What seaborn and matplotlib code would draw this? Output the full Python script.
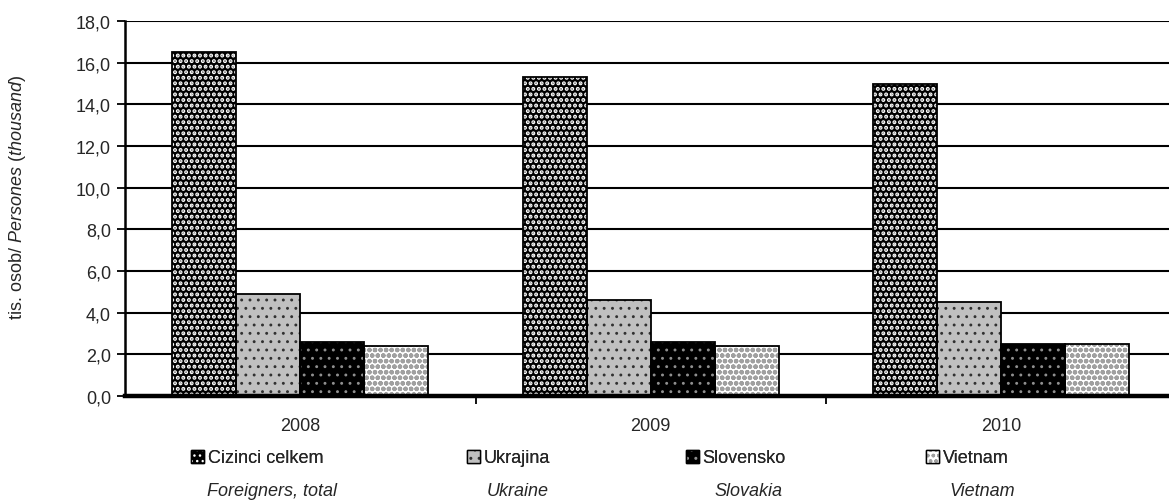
import matplotlib
matplotlib.use("Agg")
import matplotlib.pyplot as plt
from matplotlib.patches import Patch, Rectangle
from matplotlib.legend_handler import HandlerTuple
from matplotlib.ticker import FuncFormatter, FixedLocator
import pandas as pd
import seaborn as sns

years = ["2008", "2009", "2010"]
series_cz = ["Cizinci celkem", "Ukrajina", "Slovensko", "Vietnam"]
series_en = ["Foreigners, total", "Ukraine", "Slovakia", "Vietnam"]
cizinci = [16.5, 15.3, 15.0]
ukrajina = [4.9, 4.6, 4.5]
slovensko = [2.6, 2.6, 2.5]
vietnam = [2.4, 2.4, 2.5]

rows = []
for name, vals in zip(series_cz, [cizinci, ukrajina, slovensko, vietnam]):
    for y, v in zip(years, vals):
        rows.append({"rok": y, "serie": name, "hodnota": v})
df = pd.DataFrame(rows)

sns.set_style("white")
plt.rcParams["font.family"] = ["Liberation Sans", "DejaVu Sans"]
plt.rcParams["mathtext.fontset"] = "custom"
plt.rcParams["mathtext.rm"] = "Liberation Sans"
plt.rcParams["mathtext.it"] = "Liberation Sans:italic"
FS = 13

# face colour, hatch, hatch colour, hatch width
styles = {
    "Cizinci celkem": ("#000000", "...", "#ffffff", 2.0),
    "Ukrajina": ("#c0c0c0", "..", "#303030", 0.9),
    "Slovensko": ("#000000", "..", "#909090", 0.9),
    "Vietnam": ("#ffffff", "ooo", "#a0a0a0", 1.6),
}


def style_patch(p, name):
    fc, hatch, hc, hw = styles[name]
    p.set_facecolor(fc)
    p.set_hatch(hatch)
    p.set_edgecolor(hc)
    p.set_linewidth(0)
    if hasattr(p, "set_hatch_linewidth"):
        p.set_hatch_linewidth(hw)


W, H = 1169, 502
fig = plt.figure(figsize=(W / 100, H / 100), dpi=100)
ax = fig.add_axes([125 / W, 1 - 397 / H, 1051.5 / W, 375 / H])

sns.barplot(data=df, x="rok", y="hodnota", hue="serie", hue_order=series_cz,
            width=0.73, gap=0, ax=ax, legend=False, errorbar=None,
            palette=[styles[s][0] for s in series_cz], saturation=1)

# seaborn puts bars in hue order, one block per series
bars = [p for p in ax.patches if isinstance(p, Rectangle)]
for i, p in enumerate(bars[:len(series_cz) * len(years)]):
    style_patch(p, series_cz[i // len(years)])
    ax.add_patch(Rectangle(p.get_xy(), p.get_width(), p.get_height(),
                           fill=False, edgecolor="black", linewidth=1.3, zorder=3))

ax.set_xlim(-0.5, 2.5)
ax.set_ylim(0, 18)
ax.set_yticks([i * 2 for i in range(10)])
ax.yaxis.set_major_formatter(FuncFormatter(lambda v, _: f"{v:.1f}".replace(".", ",")))
ax.grid(axis="y", color="black", linewidth=1.5)
ax.set_axisbelow(True)
for s in ["top", "right"]:
    ax.spines[s].set_visible(False)
ax.spines["left"].set_linewidth(1.8)
ax.spines["bottom"].set_linewidth(3.2)
ax.spines["left"].set_color("black")
ax.spines["bottom"].set_color("black")
ax.tick_params(axis="y", direction="out", length=6, width=1.3, color="black",
               labelsize=FS, pad=4, left=True)
ax.tick_params(axis="x", which="major", length=0, labelsize=FS, pad=15)
ax.xaxis.set_minor_locator(FixedLocator([0.5, 1.5]))
ax.tick_params(axis="x", which="minor", direction="out", length=6, width=1.3,
               color="black", bottom=True)
ax.set_xlabel("")
ax.set_ylabel("")

fig.text(18 / W, 1 - 197 / H, r"tis. osob/ $\it{Persones\ (thousand)}$",
         rotation=90, ha="center", va="center", fontsize=FS)

# legend: one entry per column, English name in italics below
leg_x = [191, 467, 686, 926]
en_x = [272, 518, 748, 982]
for name, en, lx, ex in zip(series_cz, series_en, leg_x, en_x):
    h = Patch()
    style_patch(h, name)
    frame = Patch(facecolor="none", edgecolor="black", linewidth=1.0)
    lg = fig.legend(handles=[(h, frame)], labels=[name], loc="center left",
                    bbox_to_anchor=(lx / W, 1 - 459 / H), frameon=False,
                    handler_map={tuple: HandlerTuple(ndivide=1, pad=0)},
                    handlelength=0.72, handleheight=0.72, handletextpad=0.2,
                    borderpad=0, borderaxespad=0, fontsize=FS)
    fig.add_artist(lg)
    fig.text(ex / W, 1 - 492 / H, en, ha="center", va="center",
             fontsize=FS, style="italic")

fig.savefig("out.png", dpi=100)
